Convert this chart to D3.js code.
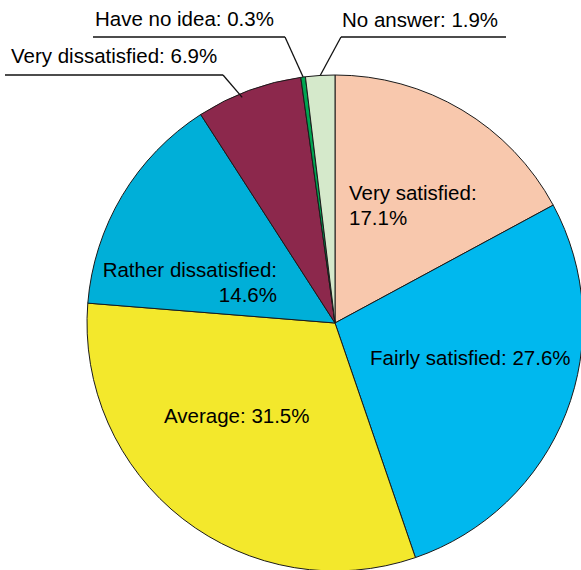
<!DOCTYPE html>
<html>
<head>
<meta charset="utf-8">
<script src="https://cdn.jsdelivr.net/npm/d3@7/dist/d3.min.js"></script>
<style>
  html, body { margin: 0; padding: 0; background: #fff; }
  svg { display: block; }
  text { font-family: "Liberation Sans", Arial, sans-serif; font-size: 20.5px; fill: #000; }
</style>
</head>
<body>
<svg id="chart" width="581" height="570"></svg>
<script>
// Survey answers, clockwise from 12 o'clock
const categories = ["Very satisfied", "Fairly satisfied", "Average", "Rather dissatisfied",
                    "Very dissatisfied", "Have no idea", "No answer"];
const shares = [17.1, 27.6, 31.5, 14.6, 6.9, 0.3, 1.9];
const colors = ["#f8c8ad", "#00b8ee", "#f3e82c", "#00afd8", "#8c284c", "#00a551", "#d5e9cb"];

const W = 581, H = 570;
const cx = 335, cy = 323, R = 248;

const svg = d3.select("#chart");
const g = svg.append("g").attr("transform", `translate(${cx},${cy})`);

const pie = d3.pie().sort(null).value(d => d.value);
const arcs = pie(categories.map((c, i) => ({ name: c, value: shares[i], color: colors[i] })));
const arc = d3.arc().innerRadius(0).outerRadius(R);

g.selectAll("path.slice")
  .data(arcs)
  .enter().append("path")
  .attr("class", "slice")
  .attr("d", arc)
  .attr("fill", d => d.data.color)
  .attr("stroke", "#1a1a1a")
  .attr("stroke-width", 1)
  .attr("stroke-linejoin", "round");

const fmt = d => `${d.data.name}: ${d.data.value.toFixed(1)}%`;

// Labels placed inside large slices (offsets from pie centre)
const inside = {
  "Very satisfied":      { x: 14,   y: -123, anchor: "start", split: true },
  "Fairly satisfied":    { x: 35,   y: 42,   anchor: "start", split: false },
  "Average":             { x: -171, y: 100,  anchor: "start", split: false },
  "Rather dissatisfied": { x: -58,  y: -46,  anchor: "end",   split: true }
};
const lineGap = 25;

arcs.forEach(d => {
  const p = inside[d.data.name];
  if (!p) return;
  const t = g.append("text")
    .attr("x", p.x).attr("y", p.y)
    .attr("text-anchor", p.anchor);
  if (p.split) {
    t.append("tspan").attr("x", p.x).attr("y", p.y).text(`${d.data.name}:`);
    t.append("tspan").attr("x", p.x).attr("y", p.y + lineGap).text(`${d.data.value.toFixed(1)}%`);
  } else {
    t.text(fmt(d));
  }
});

// Small slices get an outside label, an underline and a leader to the slice edge
const outside = {
  "Very dissatisfied": { tx: 11,  ty: 63, ux1: 5,   ux2: 223, uy: 75, from: "right", t: 0.42, r: 244 },
  "Have no idea":      { tx: 95,  ty: 26, ux1: 93,  ux2: 285, uy: 37, from: "right", t: 0.5,  r: 248 },
  "No answer":         { tx: 342, ty: 27, ux1: 341, ux2: 506, uy: 37, from: "left",  t: 0.5,  r: 248 }
};

const callouts = svg.append("g");
arcs.forEach(d => {
  const p = outside[d.data.name];
  if (!p) return;
  callouts.append("text").attr("x", p.tx).attr("y", p.ty).text(fmt(d));
  callouts.append("line")
    .attr("x1", p.ux1).attr("x2", p.ux2)
    .attr("y1", p.uy).attr("y2", p.uy)
    .attr("stroke", "#111").attr("stroke-width", 1.3);
  const a = d.startAngle + (d.endAngle - d.startAngle) * p.t;
  const ex = cx + p.r * Math.sin(a);
  const ey = cy - p.r * Math.cos(a);
  const sx = p.from === "right" ? p.ux2 : p.ux1;
  callouts.append("line")
    .attr("x1", sx).attr("y1", p.uy)
    .attr("x2", ex).attr("y2", ey)
    .attr("stroke", "#111").attr("stroke-width", 1.3);
});
</script>
</body>
</html>
